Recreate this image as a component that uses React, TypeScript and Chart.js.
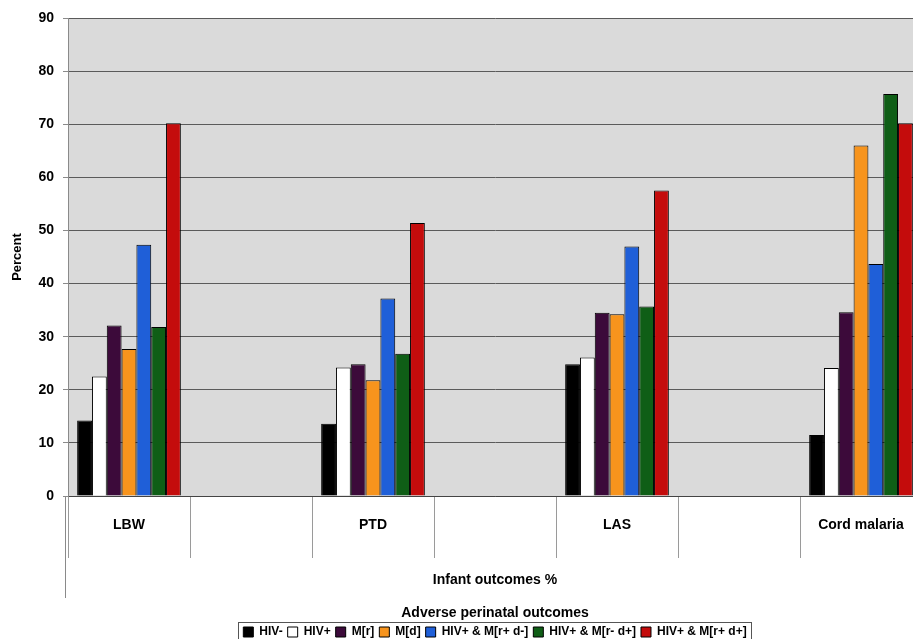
import React, { useEffect, useRef } from 'react';
import { Chart, registerables } from 'chart.js';

Chart.register(...registerables);

const categories = ['LBW', '', 'PTD', '', 'LAS', '', 'Cord malaria'];
const seriesNames = ['HIV-', 'HIV+', 'M[r]', 'M[d]', 'HIV+ & M[r+ d-]', 'HIV+ & M[r- d+]', 'HIV+ & M[r+ d+]'];
const hivNeg = [14.2, null, 13.6, null, 24.8, null, 11.5];
const hivPos = [22.5, null, 24.2, null, 26.1, null, 24.1];
const malR = [32.1, null, 24.8, null, 34.5, null, 34.6];
const malD = [27.7, null, 21.8, null, 34.2, null, 66.0];
const hivMalRd = [47.3, null, 37.2, null, 47.0, null, 43.7];
const hivMalDr = [31.8, null, 26.8, null, 35.7, null, 75.7];
const hivMalBoth = [70.2, null, 51.4, null, 57.5, null, 70.2];
const seriesValues = [hivNeg, hivPos, malR, malD, hivMalRd, hivMalDr, hivMalBoth];
const seriesColors = ['#000000', '#ffffff', '#3c0a3a', '#f7941d', '#1f5fd8', '#0f5e16', '#c40c0c'];
const yMin = 0;
const yMax = 90;
const yStep = 10;
const yTitle = 'Percent';
const xTitleLines = ['Infant outcomes %', 'Adverse perinatal outcomes'];

const FONT = '"Liberation Sans", Arial, sans-serif';

const decorPlugin = {
  id: 'decor',
  beforeDraw(chart: any) {
    const { ctx, chartArea: a } = chart;
    ctx.save();
    ctx.fillStyle = '#dadada';
    ctx.fillRect(a.left, a.top, a.right - a.left, a.bottom - a.top);
    ctx.restore();
  },
  afterDraw(chart: any) {
    const { ctx, chartArea: a } = chart;
    ctx.save();
    ctx.strokeStyle = '#8a8a8a';
    ctx.lineWidth = 1;
    ctx.beginPath();
    ctx.moveTo(a.left - 2.5, a.bottom);
    ctx.lineTo(a.left - 2.5, a.bottom + 102);
    ctx.stroke();
    const lg = chart.legend;
    const boxes = lg && lg.legendHitBoxes;
    if (boxes && boxes.length) {
      let l = Infinity, r = -Infinity, t = Infinity, b = -Infinity;
      boxes.forEach((h: any) => {
        l = Math.min(l, h.left);
        r = Math.max(r, h.left + h.width);
        t = Math.min(t, h.top);
        b = Math.max(b, h.top + h.height);
      });
      ctx.strokeStyle = '#555';
      ctx.strokeRect(Math.round(l - 5) + 0.5, Math.round(t - 4) + 0.5, Math.round(r - l + 10), Math.round(b - t + 8));
    }
    ctx.restore();
  },
};

export default function App() {
  const ref = useRef<HTMLCanvasElement | null>(null);
  useEffect(() => {
    if (!ref.current) return;
    const chart = new Chart(ref.current, {
      type: 'bar',
      data: {
        labels: categories,
        datasets: seriesNames.map((name, i) => ({
          label: name,
          data: seriesValues[i],
          backgroundColor: seriesColors[i],
          borderColor: '#000000',
          borderWidth: 1,
          categoryPercentage: 0.85,
          barPercentage: 1.0,
        })),
      },
      options: {
        responsive: false,
        animation: false,
        layout: { padding: { left: 0, right: 8, top: 18, bottom: 0 } },
        plugins: {
          legend: {
            position: 'bottom',
            fullSize: false,
            labels: {
              boxWidth: 10,
              boxHeight: 10,
              padding: 5,
              color: '#000',
              font: { family: FONT, size: 12, weight: 'bold' },
            },
          },
          tooltip: { enabled: false },
        },
        scales: {
          x: {
            afterFit: (s: any) => { s.height = 125; },
            grid: {
              drawOnChartArea: false,
              drawTicks: true,
              tickLength: 62,
              color: '#9a9a9a',
              offset: true,
            },
            border: { color: '#444', width: 1 },
            ticks: {
              padding: -41,
              autoSkip: false,
              maxRotation: 0,
              color: '#000',
              font: { family: FONT, size: 14, weight: 'bold' },
            },
            title: {
              display: true,
              text: xTitleLines,
              color: '#000',
              font: { family: FONT, size: 14, weight: 'bold', lineHeight: 2.32 },
              padding: { top: 0, bottom: -8 },
            },
          },
          y: {
            min: yMin,
            max: yMax,
            afterFit: (s: any) => { s.width = 68; },
            ticks: {
              stepSize: yStep,
              padding: 9,
              color: '#000',
              font: { family: FONT, size: 14, weight: 'bold' },
            },
            grid: {
              color: '#5a5a5a',
              lineWidth: 1,
              drawTicks: true,
              tickLength: 5,
              tickColor: '#8a8a8a',
            },
            border: { color: '#8a8a8a', width: 1 },
            title: {
              display: true,
              text: yTitle,
              color: '#000',
              font: { family: FONT, size: 13, weight: 'bold' },
              padding: { top: 10, bottom: 0 },
            },
          },
        },
      },
      plugins: [decorPlugin],
    } as any);
    return () => chart.destroy();
  }, []);

  return (
    <div style={{ position: 'absolute', left: 0, top: 0, width: 913, height: 639, overflow: 'hidden', background: '#fff' }}>
      <canvas ref={ref} width={930} height={648} style={{ width: 930, height: 648, display: 'block' }} />
    </div>
  );
}
